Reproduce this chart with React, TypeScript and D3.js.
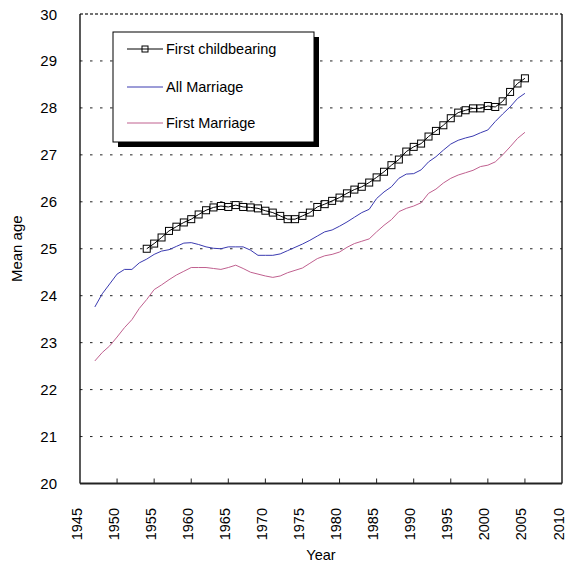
import React from 'react';
import * as d3 from 'd3';

const yTicks = [20, 21, 22, 23, 24, 25, 26, 27, 28, 29, 30];
const xTicks = [1945, 1950, 1955, 1960, 1965, 1970, 1975, 1980, 1985, 1990, 1995, 2000, 2005, 2010];

const childStart = 1954;
const firstChildbearing = [
  25.0, 25.11, 25.24, 25.38, 25.47, 25.56, 25.63, 25.73, 25.82, 25.88,
  25.91, 25.89, 25.93, 25.89, 25.88, 25.86, 25.81, 25.77, 25.7, 25.63,
  25.63, 25.7, 25.77, 25.89, 25.95, 26.02, 26.09, 26.18, 26.26, 26.32,
  26.41, 26.52, 26.64, 26.78, 26.9, 27.07, 27.17, 27.24, 27.39, 27.51,
  27.63, 27.78, 27.9, 27.95, 27.99, 27.99, 28.04, 28.02, 28.14, 28.34,
  28.52, 28.63,
];

const marriageStart = 1947;
const allMarriage = [
  23.76, 24.04, 24.25, 24.46, 24.56, 24.56, 24.7, 24.78, 24.88, 24.95,
  24.98, 25.05, 25.12, 25.13, 25.09, 25.04, 25.01, 25.0, 25.04, 25.04,
  25.04, 24.97, 24.86, 24.86, 24.86, 24.89, 24.96, 25.03, 25.1, 25.18,
  25.27, 25.36, 25.4, 25.48, 25.57, 25.67, 25.77, 25.84, 26.07, 26.21,
  26.32, 26.5, 26.59, 26.6, 26.68, 26.85, 26.96, 27.1, 27.23, 27.31,
  27.36, 27.4, 27.47, 27.53, 27.71, 27.87, 28.02, 28.2, 28.31,
];
const firstMarriage = [
  22.61, 22.79, 22.93, 23.12, 23.32, 23.49, 23.73, 23.92, 24.13, 24.23,
  24.34, 24.44, 24.52, 24.6, 24.6, 24.6, 24.58, 24.56, 24.6, 24.65,
  24.58, 24.5, 24.46, 24.42, 24.39, 24.42, 24.49, 24.54, 24.59, 24.69,
  24.79, 24.85, 24.88, 24.93, 25.03, 25.11, 25.16, 25.21, 25.36, 25.5,
  25.62, 25.79, 25.86, 25.91, 25.98, 26.18, 26.27, 26.4, 26.5, 26.57,
  26.62, 26.67, 26.75, 26.78, 26.85, 27.0, 27.17, 27.35, 27.48,
];

const legendLabels = ['First childbearing', 'All Marriage', 'First Marriage'];

const FONT = 'Arial, "Liberation Sans", sans-serif';
const BLUE = '#3a3ab0';
const PINK = '#c0608f';

export default function App() {
  const x = d3.scaleLinear().domain([1945, 2010]).range([80, 562]);
  const y = d3.scaleLinear().domain([20, 30]).range([483.5, 14]);

  const toPts = (start: number, vals: number[]) =>
    vals.map((v, i) => [start + i, v] as [number, number]);
  const line = d3
    .line<[number, number]>()
    .x((d) => x(d[0]))
    .y((d) => y(d[1]));

  const childPts = toPts(childStart, firstChildbearing);
  const allPts = toPts(marriageStart, allMarriage);
  const firstPts = toPts(marriageStart, firstMarriage);

  const [x0, x1] = x.range();
  const [yb, yt] = y.range();

  const lx = 113, ly = 32, lw = 201, lh = 110;
  const rows = [49, 87, 123];

  return (
    <svg
      width={565}
      height={569}
      style={{ position: 'absolute', left: 0, top: 0, background: '#fff' }}
      fontFamily={FONT}
    >
      <rect x={0} y={0} width={565} height={569} fill="#fff" />
      {/* gridlines */}
      {yTicks.filter((t) => t > 20 && t < 30).map((t) => (
        <line key={t} x1={x0} x2={x1} y1={y(t)} y2={y(t)} stroke="#222" strokeWidth={1} strokeDasharray="2.5,7.5" />
      ))}
      <line x1={x0} x2={x1} y1={yt} y2={yt} stroke="#444" strokeWidth={1.5} strokeDasharray="3,2" />
      {/* axes */}
      <line x1={x0} x2={x0} y1={yt} y2={yb} stroke="#000" strokeWidth={1.3} />
      <line x1={x1} x2={x1} y1={yt} y2={yb} stroke="#000" strokeWidth={1.3} />
      <line x1={x0} x2={x1} y1={yb} y2={yb} stroke="#222" strokeWidth={1.8} />
      {xTicks.slice(1, -1).map((t) => (
        <line key={t} x1={x(t)} x2={x(t)} y1={yb} y2={yb - 5} stroke="#222" strokeWidth={1} />
      ))}
      {yTicks.map((t) => (
        <text key={t} x={57} y={y(t) + 5.5} textAnchor="end" fontSize={15} fill="#000">
          {t}
        </text>
      ))}
      {xTicks.map((t) => (
        <text
          key={t}
          transform={`translate(${x(t) + 1.5},${508}) rotate(-90)`}
          textAnchor="end"
          fontSize={14.5}
          fill="#000"
        >
          {t}
        </text>
      ))}
      <text x={(x0 + x1) / 2} y={560} textAnchor="middle" fontSize={14.5}>Year</text>
      <text transform={`translate(${22},${(yt + yb) / 2}) rotate(-90)`} textAnchor="middle" fontSize={15}>
        Mean age
      </text>
      {/* series */}
      <path d={line(firstPts) || ''} fill="none" stroke={PINK} strokeWidth={1} />
      <path d={line(allPts) || ''} fill="none" stroke={BLUE} strokeWidth={1} />
      <path d={line(childPts) || ''} fill="none" stroke="#000" strokeWidth={1} />
      {childPts.map((d, i) => (
        <rect key={i} x={x(d[0]) - 3.5} y={y(d[1]) - 3.5} width={7} height={7} fill="none" stroke="#000" strokeWidth={1} />
      ))}
      {/* legend */}
      <rect x={lx + 5} y={ly + 5} width={lw} height={lh} fill="#000" />
      <rect x={lx} y={ly} width={lw} height={lh} fill="#fff" stroke="#000" strokeWidth={1} />
      {legendLabels.map((lab, i) => (
        <g key={lab}>
          <line x1={127} x2={163} y1={rows[i]} y2={rows[i]} stroke={['#000', BLUE, PINK][i]} strokeWidth={1} />
          {i === 0 && (
            <rect x={145 - 3} y={rows[i] - 3} width={6} height={6} fill="none" stroke="#000" strokeWidth={1} />
          )}
          <text x={166} y={rows[i] + 5} fontSize={14.5} fill="#000">{lab}</text>
        </g>
      ))}
    </svg>
  );
}
